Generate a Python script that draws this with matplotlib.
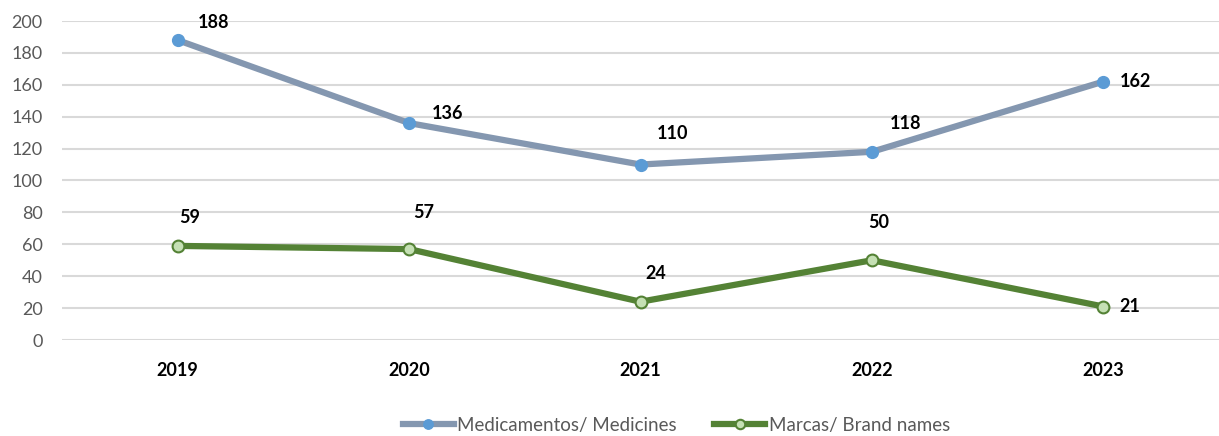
import numpy as np
import matplotlib.pyplot as plt

plt.rcParams['font.family'] = ['Lato', 'DejaVu Sans']

years = ['2019', '2020', '2021', '2022', '2023']
medicines = [188, 136, 110, 118, 162]
brands = [59, 57, 24, 50, 21]

# label offsets in pixels (dx, dy)
med_off = [(36, 18), (38, 10), (32, 31), (34, 28), (32, 0)]
brand_off = [(12, 28), (15, 37), (15, 28), (7, 38), (27, 0)]

fig = plt.figure(figsize=(12.19, 4.36), dpi=100)
ax = fig.add_axes([62 / 1219, 1 - 340 / 436, 1 - 62 / 1219, (340 - 21) / 436])

x = np.arange(len(years))
ax.plot(x, medicines, color='#8497B0', lw=4.5, marker='o', ms=8.5,
        mfc='#5B9BD5', mec='#5B9BD5', label='Medicamentos/ Medicines', zorder=3)
ax.plot(x, brands, color='#548235', lw=4.5, marker='o', ms=8.5,
        mfc='#C5E0B4', mec='#548235', mew=1.5, label='Marcas/ Brand names', zorder=3)

for xi, v, o in zip(x, medicines, med_off):
    ax.annotate(str(v), (xi, v), xytext=o, textcoords='offset pixels',
                ha='center', va='center', fontsize=13, fontweight='bold', color='black')
for xi, v, o in zip(x, brands, brand_off):
    ax.annotate(str(v), (xi, v), xytext=o, textcoords='offset pixels',
                ha='center', va='center', fontsize=13, fontweight='bold', color='black')

ax.set_xlim(-0.5, 4.5)
ax.set_ylim(0, 200)
ax.set_yticks(range(0, 201, 20))
ax.set_xticks(x)
ax.set_xticklabels(years, fontweight='bold', color='black', fontsize=13)
ax.tick_params(axis='y', labelsize=13, labelcolor='#595959', length=0, pad=14)
ax.tick_params(axis='x', length=0, pad=16)
ax.grid(axis='y', color='#D9D9D9', lw=1.5)
ax.set_axisbelow(True)
for s in ax.spines.values():
    s.set_visible(False)

fig.legend(loc='center', bbox_to_anchor=(0.555, 0.025), ncol=2, frameon=False,
           fontsize=13.5, labelcolor='#595959', handlelength=2.7, columnspacing=2.0,
           handletextpad=0.2, markerscale=0.8)

fig.savefig('out.png', dpi=100)
